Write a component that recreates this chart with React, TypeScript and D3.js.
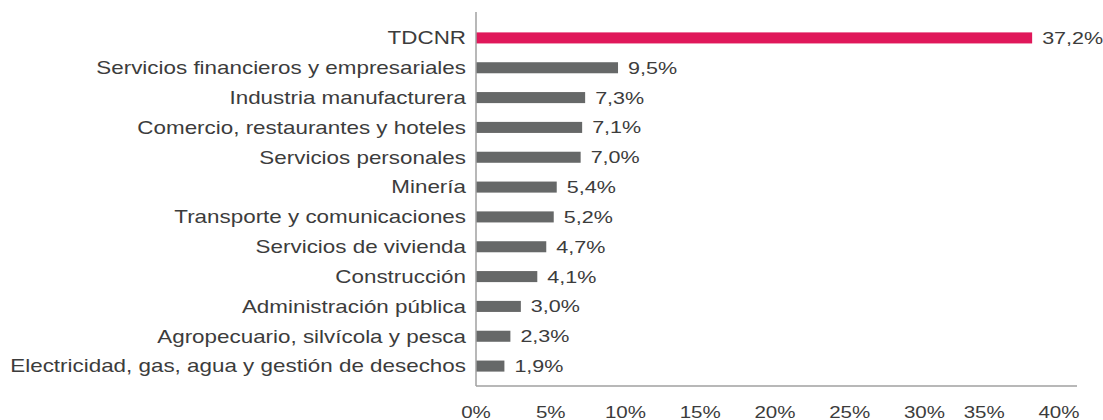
import React from "react";
import * as d3 from "d3";

const categories = [
  "TDCNR",
  "Servicios financieros y empresariales",
  "Industria manufacturera",
  "Comercio, restaurantes y hoteles",
  "Servicios personales",
  "Minería",
  "Transporte y comunicaciones",
  "Servicios de vivienda",
  "Construcción",
  "Administración pública",
  "Agropecuario, silvícola y pesca",
  "Electricidad, gas, agua y gestión de desechos",
];
const values = [37.2, 9.5, 7.3, 7.1, 7.0, 5.4, 5.2, 4.7, 4.1, 3.0, 2.3, 1.9];
const ticks = [0, 5, 10, 15, 20, 25, 30, 35, 40];

const W = 1103;
const H = 420;
const left = 476;
const right = 1074;
const top = 23;
const bottom = 381;
const SX = 1.245;

function T(props: { x: number; y: number; anchor: string; size: number; children: React.ReactNode }) {
  return (
    <text
      transform={`translate(${props.x},${props.y}) scale(${SX},1)`}
      dy="0.35em"
      textAnchor={props.anchor}
      fontSize={props.size}
      fill="#3c3c3c"
    >
      {props.children}
    </text>
  );
}

export default function App() {
  const x = d3.scaleLinear().domain([0, 40]).range([left, right]);
  const y = d3.scaleBand<string>().domain(categories).range([top, bottom]).paddingInner(0.63).paddingOuter(0.315);
  const fmt = (v: number) => v.toFixed(1).replace(".", ",") + "%";
  const font = "'Liberation Sans', Arial, sans-serif";
  return (
    <svg width={W} height={H} style={{ position: "absolute", left: 0, top: 0 }} fontFamily={font}>
      <rect width={W} height={H} fill="#fff" />
      {categories.map((c, i) => {
        const cy = (y(c) as number) + y.bandwidth() / 2;
        return (
          <g key={c}>
            <rect x={x(0)} y={y(c)} width={x(values[i]) - x(0)} height={y.bandwidth()} fill={i === 0 ? "#E0185A" : "#666868"} />
            <T x={left - 10} y={cy} anchor="end" size={18}>{c}</T>
            <T x={x(values[i]) + 10} y={cy} anchor="start" size={17.3}>{fmt(values[i])}</T>
          </g>
        );
      })}
      <line x1={left} x2={left} y1={12} y2={386} stroke="#a0a0a0" strokeWidth={1.5} />
      <line x1={left} x2={right + 3} y1={386} y2={386} stroke="#a0a0a0" strokeWidth={1.5} />
      {ticks.map((t) => (
        <T key={t} x={x(t) - (t >= 35 ? 15 : 0)} y={412} anchor="middle" size={16.5}>{t + "%"}</T>
      ))}
    </svg>
  );
}
